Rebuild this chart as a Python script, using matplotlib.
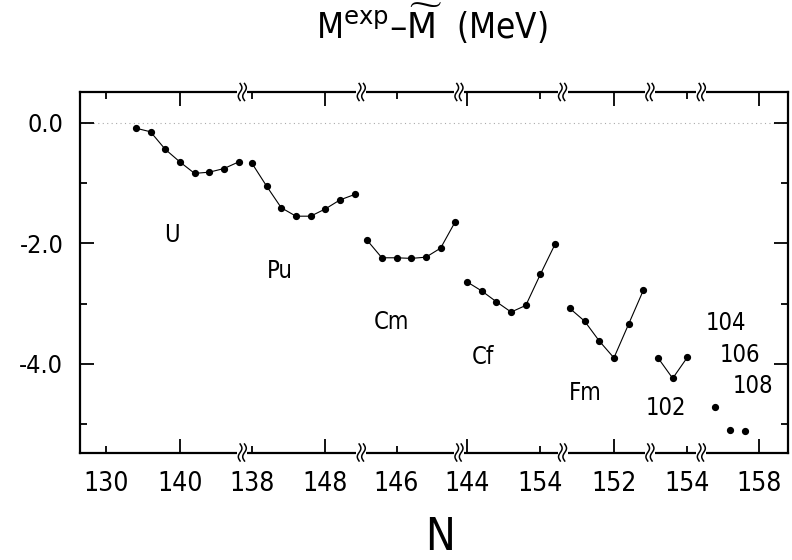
import numpy as np
import matplotlib
matplotlib.use('Agg')
import matplotlib.pyplot as plt
import matplotlib.transforms as mtransforms

plt.rcParams['axes.unicode_minus'] = False

# N range shown on each piece of the broken axis
seg_ranges = [(126.4, 148.5), (136.7, 152.9), (141.2, 154.5), (142.9, 157.0),
              (145.0, 156.9), (148.9, 155.9), (150.1, 161.9)]

# M_exp - M_tilde (MeV) along even-N isotope chains
U_N = [134, 136, 138, 140, 142, 144, 146, 148]
U_dM = [-0.09, -0.15, -0.44, -0.65, -0.84, -0.82, -0.76, -0.65]
Pu_N = [138, 140, 142, 144, 146, 148, 150, 152]
Pu_dM = [-0.67, -1.05, -1.41, -1.55, -1.55, -1.43, -1.28, -1.19]
Cm_N = [142, 144, 146, 148, 150, 152, 154]
Cm_dM = [-1.95, -2.24, -2.24, -2.25, -2.23, -2.08, -1.64]
Cf_N = [144, 146, 148, 150, 152, 154, 156]
Cf_dM = [-2.64, -2.79, -2.97, -3.14, -3.03, -2.51, -2.01]
Fm_N = [146, 148, 150, 152, 154, 156]
Fm_dM = [-3.08, -3.29, -3.62, -3.90, -3.34, -2.78]
No_N = [150, 152, 154]
No_dM = [-3.90, -4.24, -3.89]
heavy_N = [152, 154, 156]          # Z = 104, 106, 108
heavy_dM = [-4.71, -5.10, -5.11]

chains = [(0, U_N, U_dM, '-'), (1, Pu_N, Pu_dM, '-'), (2, Cm_N, Cm_dM, '-'),
          (3, Cf_N, Cf_dM, '-'), (4, Fm_N, Fm_dM, '-'), (5, No_N, No_dM, '-'),
          (6, heavy_N, heavy_dM, 'none')]

tick_seg = [0, 0, 1, 1, 2, 3, 3, 4, 5, 6]
tick_N = [130, 140, 138, 148, 146, 144, 154, 152, 154, 158]
tick_long = [False, True, False, True, False, True, False, True, False, True]

labels = ['U', 'Pu', 'Cm', 'Cf', 'Fm', '102', '104', '106', '108']
label_seg = [0, 1, 2, 3, 4, 5, 6, 6, 6]
label_N = [138.9, 141.8, 145.25, 146.2, 148.05, 151.1, 153.4, 155.3, 157.2]
label_y = [-1.86, -2.46, -3.31, -3.88, -4.49, -4.74, -3.33, -3.86, -4.36]

widths = [hi - lo for lo, hi in seg_ranges]
seg_start = np.concatenate([[0], np.cumsum(widths)])


def pos(seg, n):
    return seg_start[seg] + (np.asarray(n, dtype=float) - seg_ranges[seg][0])


fnt = dict(family='DejaVu Sans', stretch='condensed')

fig = plt.figure(figsize=(7.92, 5.6), dpi=100)
ax_w, ax_h = 708, 360.5
ax = fig.add_axes([80 / 792, 1 - 452.5 / 560, ax_w / 792, ax_h / 560])

ax.axhline(0, color='#aaaaaa', lw=0.8, ls=(0, (1, 3)), zorder=1)

for seg, n, dm, ls in chains:
    ax.plot(pos(seg, n), dm, ls=ls, color='black', lw=0.8,
            marker='o', ms=4.2, mfc='black', mec='black')

for txt, s, n, y in zip(labels, label_seg, label_N, label_y):
    ax.text(pos(s, n), y, txt, fontsize=17, ha='center', va='center', **fnt)

ax.set_xlim(0, seg_start[-1])
ax.set_ylim(-5.47, 0.51)

xt = [pos(s, n) for s, n in zip(tick_seg, tick_N)]
ax.set_xticks(xt)
ax.set_xticklabels([str(n) for n in tick_N], fontsize=19, **fnt)
ax.set_yticks([0, -2, -4])
ax.set_yticklabels(['0.0', '-2.0', '-4.0'], fontsize=18, **fnt)
ax.set_yticks([-1, -3, -5], minor=True)

ax.tick_params(axis='x', which='major', direction='in', top=True, bottom=True,
               length=5, width=1.3, pad=13)
ax.tick_params(axis='y', which='major', direction='in', left=True, right=True,
               length=10, width=1.3, pad=12)
ax.tick_params(axis='y', which='minor', direction='in', left=True, right=True,
               length=5, width=1.3)

for tk, lg in zip(ax.xaxis.get_major_ticks(), tick_long):
    size = 10 if lg else 5
    tk.tick1line.set_markersize(size)
    tk.tick2line.set_markersize(size)

for sp in ax.spines.values():
    sp.set_linewidth(1.6)

# break marks (two wavy strokes) on top and bottom axis lines
trans = mtransforms.blended_transform_factory(ax.transData, ax.transAxes)
ux = seg_start[-1] / ax_w      # data units per pixel
uy = 1.0 / ax_h                # axes units per pixel
t = np.linspace(-1, 1, 40)
for xb in seg_start[1:-1]:
    for yb in (0, 1):
        ax.plot([xb - 5 * ux, xb + 5 * ux], [yb, yb], color='white', lw=3,
                transform=trans, clip_on=False, zorder=5, solid_capstyle='butt')
        for dx in (-2.2, 2.2):
            ax.plot(xb + (dx + 1.8 * np.sin(np.pi * t)) * ux, yb + 8.5 * t * uy,
                    color='black', lw=1.1, transform=trans, clip_on=False, zorder=6)

fig.text(0.545, 0.958, r'M$^{\mathrm{exp}}$–$\widetilde{\mathrm{M}}$  (MeV)',
         fontsize=25, ha='center', va='center', **fnt)
fig.text(0.556, 0.041, 'N', fontsize=32, ha='center', va='center', **fnt)

fig.savefig('out.png', dpi=100)
